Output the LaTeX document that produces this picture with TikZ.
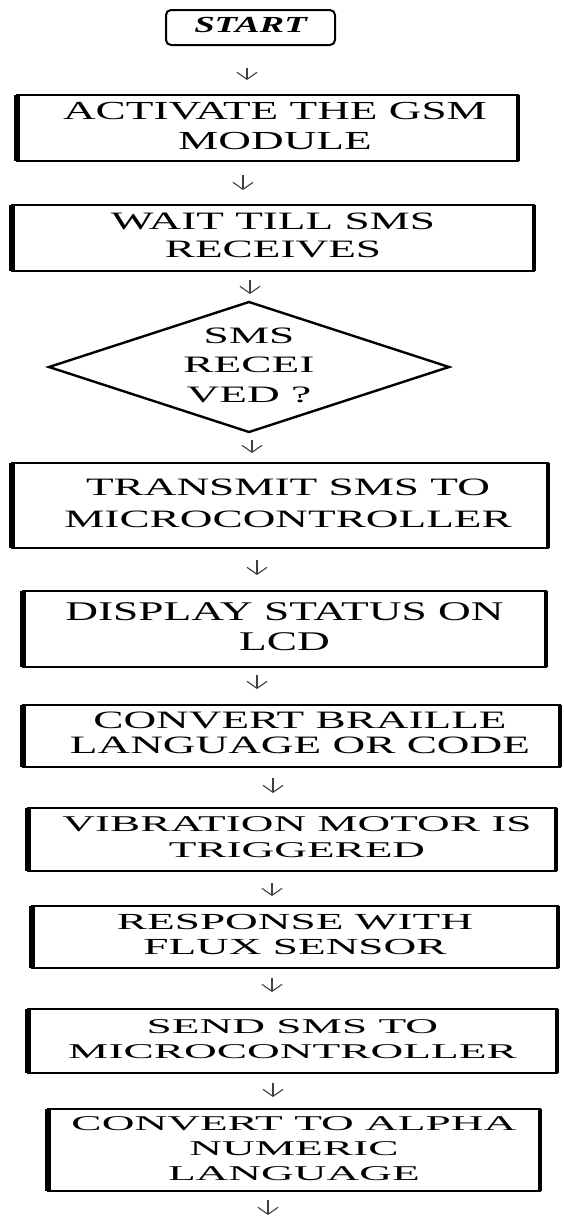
\documentclass[tikz,border=0pt]{standalone}
\usepackage{fontspec}
\usepackage{graphicx}
\setmainfont{Liberation Serif}
\usetikzlibrary{arrows.meta,shapes.geometric}

% wide lettering: font size, horizontal stretch, line pitch, lines
\newcommand\widetext[4]{\scalebox{#2}[1]{\fontsize{#1}{#3}\selectfont\begin{tabular}{@{}c@{}}#4\end{tabular}}}

\tikzset{
  stepbox/.style={draw, rectangle, line width=2pt, inner sep=0pt, outer sep=0pt},
  leftside/.style={line width=5.5pt},
  rightside/.style={line width=4pt},
  startbox/.style={draw, rectangle, line width=2pt, rounded corners=5pt, inner sep=0pt, outer sep=0pt},
  decision/.style={draw, diamond, line width=2.4pt, inner sep=0pt, outer sep=0pt},
  flow/.style={draw=black!75, line width=1.1pt, -{Straight Barb[length=7pt,width=20pt,line width=1.1pt]}},
}

\begin{document}
\begin{tikzpicture}[x=1pt,y=-1pt]
\useasboundingbox (0,0) rectangle (563,1216);
\fill[white] (0,0) rectangle (563,1216);

% start terminal
\node[startbox, minimum width=169pt, minimum height=35pt] (start) at (250.5,27.5)
  {\widetext{23}{1.6}{26}{\bfseries\itshape START}};

% process steps
\node[stepbox, minimum width=501pt, minimum height=66pt] (b1) at (267.5,128)
  {\hspace*{15pt}\widetext{26}{1.74}{30}{ACTIVATE THE GSM\\MODULE}};
\node[stepbox, minimum width=522pt, minimum height=66pt] (b2) at (273,238)
  {\widetext{25}{1.81}{28}{WAIT TILL SMS\\RECEIVES}};

% decision
\node[decision, minimum width=400pt, minimum height=130pt] (dm) at (249,367) {};
\node (dmtext) at (dm.center) {\widetext{23.5}{1.93}{29.5}{SMS\\RECEI\\VED ?}};

\node[stepbox, minimum width=536pt, minimum height=85pt] (b3) at (280,505.5)
  {\hspace*{16pt}\widetext{25}{1.81}{32}{TRANSMIT SMS TO\\MICROCONTROLLER}};
\node[stepbox, minimum width=523pt, minimum height=76pt] (b4) at (284.5,629)
  {\widetext{27}{1.68}{30}{DISPLAY STATUS ON\\LCD}};
\node[stepbox, minimum width=537pt, minimum height=62pt] (b5) at (291.5,736)
  {\hspace*{17pt}\widetext{25}{1.81}{25}{CONVERT BRAILLE\\LANGUAGE OR CODE}};
\node[stepbox, minimum width=528pt, minimum height=63pt] (b6) at (292,839.5)
  {\hspace*{10pt}\widetext{22.5}{2.01}{26}{VIBRATION MOTOR IS\\TRIGGERED}};
\node[stepbox, minimum width=526pt, minimum height=62pt] (b7) at (295,937)
  {\widetext{23}{1.97}{25}{RESPONSE WITH\\FLUX SENSOR}};
\node[stepbox, minimum width=529pt, minimum height=64pt] (b8) at (292.5,1041)
  {\widetext{21}{2.16}{25}{SEND SMS TO\\MICROCONTROLLER}};
\node[stepbox, minimum width=492pt, minimum height=82pt] (b9) at (294,1150)
  {\widetext{21}{2.16}{25}{CONVERT TO ALPHA\\NUMERIC\\LANGUAGE}};

% heavier vertical sides
\foreach \b in {b1,b2,b3,b4,b5,b6,b7,b8,b9} {
  \draw[leftside] (\b.north west) -- (\b.south west);
  \draw[rightside] (\b.north east) -- (\b.south east);
}

% arrow columns
\coordinate (x1) at (247,0);
\coordinate (x2) at (243,0);
\coordinate (x3) at (250,0);
\coordinate (x4) at (252,0);
\coordinate (x5) at (257,0);
\coordinate (x6) at (257,0);
\coordinate (x7) at (273,0);
\coordinate (x8) at (272,0);
\coordinate (x9) at (272,0);
\coordinate (x10) at (273,0);
\coordinate (finish) at (268,1216);

\draw[flow, shorten <=23pt, shorten >=15pt] (start.south -| x1) -- (b1.north -| x1);
\draw[flow, shorten <=14pt, shorten >=15pt] (b1.south -| x2) -- (b2.north -| x2);
\draw[flow, shorten <=9pt,  shorten >=8pt]  (b2.south -| x3) -- (dm.north -| x3);
\draw[flow, shorten <=8pt,  shorten >=10pt] (dm.south -| x4) -- (b3.north -| x4);
\draw[flow, shorten <=12pt, shorten >=16pt] (b3.south -| x5) -- (b4.north -| x5);
\draw[flow, shorten <=8pt,  shorten >=16pt] (b4.south -| x6) -- (b5.north -| x6);
\draw[flow, shorten <=11pt, shorten >=15pt] (b5.south -| x7) -- (b6.north -| x7);
\draw[flow, shorten <=12pt, shorten >=10pt] (b6.south -| x8) -- (b7.north -| x8);
\draw[flow, shorten <=10pt, shorten >=17pt] (b7.south -| x9) -- (b8.north -| x9);
\draw[flow, shorten <=10pt, shorten >=12pt] (b8.south -| x10) -- (b9.north -| x10);
\draw[flow, shorten <=9pt,  shorten >=1pt]  (b9.south -| finish) -- (finish);
\end{tikzpicture}
\end{document}
